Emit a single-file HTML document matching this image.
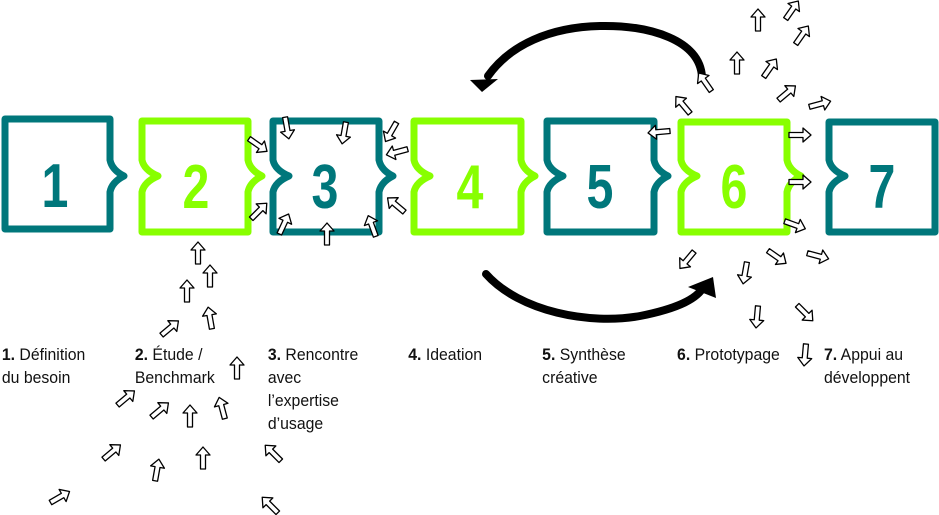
<!DOCTYPE html>
<html><head><meta charset="utf-8"><style>
html,body{margin:0;padding:0;background:#fff;width:939px;height:515px;overflow:hidden}
svg{display:block}
.num{font-family:"Liberation Sans",sans-serif;font-size:62px;font-weight:bold;text-anchor:middle}
.lb{font-family:"Liberation Sans",sans-serif;font-size:17px;fill:#111}
</style></head><body>
<svg width="939" height="515" viewBox="0 0 939 515">
<defs>
<path id="ar" d="M-11,-2.5 L3,-2.5 L3,-7 L11,0 L3,7 L3,2.5 L-11,2.5 Z" fill="#fff" stroke="#000" stroke-width="1.3" stroke-linejoin="round"/>
</defs>
<g fill="none" stroke-width="7" stroke-linejoin="round" stroke-linecap="round">
<path stroke="#00777b" d="M5,119 L110,119 L110,160 Q112,170 124,176 Q112,182 110,192 L110,229 L5,229 Z"/>
<path stroke="#88ff00" d="M142,121 L248,121 L248,160 Q250,170 262,176 Q250,182 248,192 L248,232 L142,232 L142,192 Q144,182 158,176 Q144,170 142,160 Z"/>
<path stroke="#00777b" d="M273,121 L379,121 L379,160 Q381,170 393,176 Q381,182 379,192 L379,232 L273,232 L273,192 Q275,182 289,176 Q275,170 273,160 Z"/>
<path stroke="#88ff00" d="M414,121 L521,121 L521,160 Q523,170 535,176 Q523,182 521,192 L521,232 L414,232 L414,192 Q416,182 430,176 Q416,170 414,160 Z"/>
<path stroke="#00777b" d="M547,121 L654,121 L654,160 Q656,170 668,176 Q656,182 654,192 L654,232 L547,232 L547,192 Q549,182 563,176 Q549,170 547,160 Z"/>
<path stroke="#88ff00" d="M681,122 L787,122 L787,160 Q789,170 801,176 Q789,182 787,192 L787,232 L681,232 L681,192 Q683,182 697,176 Q683,170 681,160 Z"/>
<path stroke="#00777b" d="M829,122 L935,122 L935,232 L829,232 L829,192 Q831,182 845,176 Q831,170 829,160 Z"/>
</g>
<text class="num" transform="translate(55,207) scale(0.78,1)" fill="#00777b">1</text>
<text class="num" transform="translate(196,208) scale(0.78,1)" fill="#88ff00">2</text>
<text class="num" transform="translate(325,208) scale(0.78,1)" fill="#00777b">3</text>
<text class="num" transform="translate(470,208) scale(0.78,1)" fill="#88ff00">4</text>
<text class="num" transform="translate(600,208) scale(0.78,1)" fill="#00777b">5</text>
<text class="num" transform="translate(734,208) scale(0.78,1)" fill="#88ff00">6</text>
<text class="num" transform="translate(882,208) scale(0.78,1)" fill="#00777b">7</text>
<!-- big arrows -->
<path d="M702,77 C700,40 650,25 600,26 C550,27 510,45 488,76" fill="none" stroke="#000" stroke-width="8" stroke-linecap="round"/>
<polygon points="470,80 498,79 482,92" fill="#000"/>
<path d="M486,274 C520,312 590,325 640,316 C680,308 698,298 704,286" fill="none" stroke="#000" stroke-width="8" stroke-linecap="round"/>
<polygon points="688,287 713,277 716,298" fill="#000"/>
<!-- small arrows -->
<g>
<use href="#ar" transform="translate(287,128) rotate(80)"/>
<use href="#ar" transform="translate(344,133) rotate(100)"/>
<use href="#ar" transform="translate(391,132) rotate(120)"/>
<use href="#ar" transform="translate(397,152) rotate(165)"/>
<use href="#ar" transform="translate(258,145) rotate(35)"/>
<use href="#ar" transform="translate(259,211) rotate(-45)"/>
<use href="#ar" transform="translate(284,224) rotate(-65)"/>
<use href="#ar" transform="translate(327,234) rotate(-90)"/>
<use href="#ar" transform="translate(372,226) rotate(-110)"/>
<use href="#ar" transform="translate(396,205) rotate(-140)"/>
<use href="#ar" transform="translate(198,253) rotate(-90)"/>
<use href="#ar" transform="translate(210,276) rotate(-90)"/>
<use href="#ar" transform="translate(187,291) rotate(-90)"/>
<use href="#ar" transform="translate(210,318) rotate(-100)"/>
<use href="#ar" transform="translate(170,328) rotate(-40)"/>
<use href="#ar" transform="translate(237,368) rotate(-90)"/>
<use href="#ar" transform="translate(126,398) rotate(-40)"/>
<use href="#ar" transform="translate(160,410) rotate(-40)"/>
<use href="#ar" transform="translate(190,416) rotate(-90)"/>
<use href="#ar" transform="translate(222,408) rotate(-105)"/>
<use href="#ar" transform="translate(112,452) rotate(-40)"/>
<use href="#ar" transform="translate(157,470) rotate(-80)"/>
<use href="#ar" transform="translate(203,458) rotate(-90)"/>
<use href="#ar" transform="translate(273,453) rotate(-135)"/>
<use href="#ar" transform="translate(60,497) rotate(-30)"/>
<use href="#ar" transform="translate(270,505) rotate(-135)"/>
<use href="#ar" transform="translate(705,82) rotate(-125)"/>
<use href="#ar" transform="translate(683,105) rotate(-130)"/>
<use href="#ar" transform="translate(659,132) rotate(175)"/>
<use href="#ar" transform="translate(758,20) rotate(-90)"/>
<use href="#ar" transform="translate(792,10) rotate(-55)"/>
<use href="#ar" transform="translate(802,35) rotate(-55)"/>
<use href="#ar" transform="translate(737,63) rotate(-90)"/>
<use href="#ar" transform="translate(770,68) rotate(-55)"/>
<use href="#ar" transform="translate(787,93) rotate(-40)"/>
<use href="#ar" transform="translate(820,104) rotate(-15)"/>
<use href="#ar" transform="translate(800,135) rotate(0)"/>
<use href="#ar" transform="translate(800,182) rotate(0)"/>
<use href="#ar" transform="translate(795,225) rotate(20)"/>
<use href="#ar" transform="translate(777,257) rotate(35)"/>
<use href="#ar" transform="translate(818,256) rotate(15)"/>
<use href="#ar" transform="translate(687,260) rotate(130)"/>
<use href="#ar" transform="translate(745,273) rotate(100)"/>
<use href="#ar" transform="translate(757,317) rotate(95)"/>
<use href="#ar" transform="translate(805,313) rotate(45)"/>
<use href="#ar" transform="translate(805,355) rotate(95)"/>
</g>
<!-- labels -->
<g class="lb" transform="scale(0.93,1)">
<text x="2" y="360"><tspan font-weight="bold">1.</tspan> Définition</text>
<text x="2" y="383">du besoin</text>
<text x="145" y="360"><tspan font-weight="bold">2.</tspan> Étude /</text>
<text x="145" y="383">Benchmark</text>
<text x="288" y="360"><tspan font-weight="bold">3.</tspan> Rencontre</text>
<text x="288" y="383">avec</text>
<text x="288" y="406">l’expertise</text>
<text x="288" y="429">d’usage</text>
<text x="439" y="360"><tspan font-weight="bold">4.</tspan> Ideation</text>
<text x="583" y="360"><tspan font-weight="bold">5.</tspan> Synthèse</text>
<text x="583" y="383">créative</text>
<text x="728" y="360"><tspan font-weight="bold">6.</tspan> Prototypage</text>
<text x="886" y="360"><tspan font-weight="bold">7.</tspan> Appui au</text>
<text x="886" y="383">développent</text>
</g>
</svg>
</body></html>
